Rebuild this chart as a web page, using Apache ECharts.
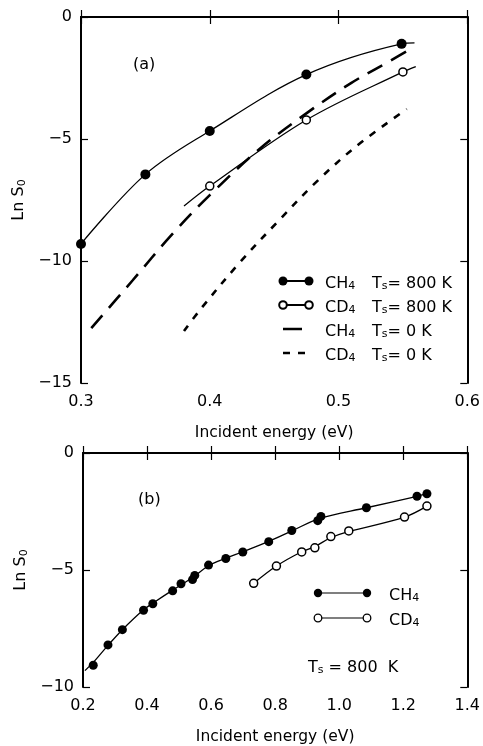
<!DOCTYPE html>
<html><head><meta charset="utf-8">
<script src="https://cdn.jsdelivr.net/npm/echarts@6/dist/echarts.min.js"></script>
<style>html,body{margin:0;padding:0;background:#fff}#c{width:483px;height:746px}</style>
</head><body><div id="c"></div>
<script>
// ---------- Panel (a) ----------
const aXTicks = [0.3, 0.4, 0.5, 0.6];
const aYTicks = [-15, -10, -5, 0];
const aCH4_800_pts = [[0.3,-9.3],[0.35,-6.45],[0.4,-4.67],[0.475,-2.36],[0.549,-1.1]];
const aCH4_800_fit = [[0.3,-9.3],[0.35,-6.45],[0.4,-4.67],[0.475,-2.36],[0.549,-1.1],[0.559,-1.06]];
const aCD4_800_pts = [[0.4,-6.93],[0.475,-4.22],[0.55,-2.25]];
const aCD4_800_fit = [[0.38,-7.75],[0.4,-6.93],[0.475,-4.22],[0.55,-2.25],[0.56,-2.03]];
const aCH4_0_fit = [[0.308,-12.75],[0.34,-10.8],[0.37,-8.95],[0.40,-7.3],[0.44,-5.35],[0.475,-3.95],[0.51,-2.7],[0.54,-1.8],[0.558,-1.25]];
const aCD4_0_fit = [[0.38,-12.87],[0.394,-11.9],[0.423,-10.08],[0.454,-8.32],[0.482,-6.8],[0.513,-5.33],[0.553,-3.77]];

// ---------- Panel (b) ----------
const bXTicks = [0.2, 0.4, 0.6, 0.8, 1.0, 1.2, 1.4];
const bYTicks = [-10, -5, 0];
const bCH4_pts = [[0.232,-9.07],[0.278,-8.2],[0.323,-7.55],[0.389,-6.72],[0.418,-6.44],[0.48,-5.89],[0.506,-5.59],[0.542,-5.41],[0.549,-5.23],[0.592,-4.79],[0.646,-4.51],[0.699,-4.23],[0.78,-3.79],[0.852,-3.31],[0.933,-2.89],[0.943,-2.71],[1.085,-2.34],[1.243,-1.85],[1.274,-1.74]];
const bCH4_fit = [[0.206,-9.3],[0.232,-8.95],[0.278,-8.22],[0.323,-7.55],[0.389,-6.7],[0.418,-6.42],[0.48,-5.86],[0.545,-5.3],[0.592,-4.82],[0.646,-4.5],[0.699,-4.22],[0.78,-3.78],[0.852,-3.33],[0.938,-2.8],[1.085,-2.34],[1.243,-1.85],[1.274,-1.74]];
const bCD4_pts = [[0.733,-5.57],[0.804,-4.83],[0.883,-4.23],[0.924,-4.05],[0.974,-3.57],[1.03,-3.33],[1.204,-2.74],[1.274,-2.27]];
const bCD4_fit = [[0.733,-5.57],[0.804,-4.83],[0.883,-4.22],[0.924,-4.0],[0.974,-3.62],[1.03,-3.36],[1.204,-2.74],[1.274,-2.27]];

const FONT = '"DejaVu Sans", "Liberation Sans", Arial, sans-serif';
const rich = {
  m: {fontSize: 16, fontFamily: FONT, color: '#000', lineHeight: 22, verticalAlign: 'bottom'},
  s: {fontSize: 11, fontFamily: FONT, color: '#000', lineHeight: 12, verticalAlign: 'bottom'}
};
const fmtY = v => (v < 0 ? '\u2212' + Math.abs(v) : String(v));
const fmtX = v => Number(v).toFixed(1);

function xAx(grid, min, max, interval, pos, labels) {
  return {
    type: 'value', gridIndex: grid, min, max, interval, position: pos,
    name: labels ? 'Incident energy (eV)' : '', nameLocation: 'middle', nameGap: 42,
    nameTextStyle: {fontSize: 15.5, fontFamily: FONT, color: '#000'},
    axisLine: {show: true, lineStyle: {color: '#000', width: 2}},
    axisTick: {show: true, inside: true, length: 7, lineStyle: {color: '#000', width: 1.2}},
    axisLabel: {show: labels, formatter: fmtX, fontSize: 16, fontFamily: FONT, color: '#000', margin: 11},
    splitLine: {show: false}
  };
}
function yAx(grid, min, max, interval, pos, labels) {
  return {
    type: 'value', gridIndex: grid, min, max, interval, position: pos,
    name: labels ? '{m|Ln S}{s|0}' : '', nameLocation: 'middle', nameGap: 48,
    nameTextStyle: {rich: rich},
    axisLine: {show: true, onZero: false, lineStyle: {color: '#000', width: 2}},
    axisTick: {show: true, inside: true, length: 7, lineStyle: {color: '#000', width: 1.2}},
    axisLabel: {show: labels, formatter: fmtY, fontSize: 16, fontFamily: FONT, color: '#000', margin: 9},
    splitLine: {show: false}
  };
}

function line(data, xi, yi, width, dash) {
  return {type: 'line', xAxisIndex: xi, yAxisIndex: yi, data, smooth: 0.35, showSymbol: false, symbol: 'none',
    lineStyle: {color: '#000', width, type: dash || 'solid', opacity: 1}, silent: true, z: 2};
}
function pts(data, xi, yi, filled, size) {
  return {type: 'scatter', xAxisIndex: xi, yAxisIndex: yi, data, symbol: 'circle', symbolSize: size,
    itemStyle: {color: filled ? '#000' : '#fff', borderColor: '#000', borderWidth: filled ? 0 : 1.5, opacity: 1}, silent: true, z: 5};
}

// legend graphics
const G = [];
function txt(x, y, t) { G.push({type: 'text', x, y, style: {text: t, rich: rich, verticalAlign: 'middle', fill: '#000'}, z: 10}); }
function circ(x, y, r, filled, lw) { G.push({type: 'circle', shape: {cx: x, cy: y, r}, style: {fill: filled ? '#000' : '#fff', stroke: '#000', lineWidth: filled ? 0 : (lw || 1.5)}, z: 11}); }
function seg(x1, y1, x2, y2, w) { G.push({type: 'line', shape: {x1, y1, x2, y2}, style: {stroke: '#000', lineWidth: w}, z: 10}); }

// top legend
const L = [281, 305, 329, 353];
seg(283, L[0], 309, L[0], 2); circ(283, L[0], 4.5, true); circ(309, L[0], 4.5, true);
seg(283, L[1], 309, L[1], 2); circ(283, L[1], 3.8, false, 2); circ(309, L[1], 3.8, false, 2);
seg(283, L[2], 302, L[2], 2.5);
seg(283, L[3], 290, L[3], 2.5); seg(298, L[3], 305, L[3], 2.5);
txt(325, L[0], '{m|CH}{s|4}'); txt(372, L[0], '{m|T}{s|s}{m|= 800 K}');
txt(325, L[1], '{m|CD}{s|4}'); txt(372, L[1], '{m|T}{s|s}{m|= 800 K}');
txt(325, L[2], '{m|CH}{s|4}'); txt(372, L[2], '{m|T}{s|s}{m|= 0 K}');
txt(325, L[3], '{m|CD}{s|4}'); txt(372, L[3], '{m|T}{s|s}{m|= 0 K}');
txt(133, 62, '{m|(a)}');

// bottom legend
seg(318, 593, 367, 593, 1.2); circ(318, 593, 4.2, true); circ(367, 593, 4.2, true);
seg(318, 618, 367, 618, 1.2); circ(318, 618, 3.8, false, 1.3); circ(367, 618, 3.8, false, 1.3);
txt(389, 593, '{m|CH}{s|4}');
txt(389, 618, '{m|CD}{s|4}');
txt(308, 665, '{m|T}{s|s}{m| = 800  K}');
txt(138, 497, '{m|(b)}');

const chart = echarts.init(document.getElementById('c'), null, {renderer: 'canvas'});
chart.setOption({
  backgroundColor: '#fff',
  animation: false,
  grid: [
    {left: 81, top: 17, width: 388, height: 366},
    {left: 83, top: 453, width: 387, height: 241}
  ],
  xAxis: [
    xAx(0, aXTicks[0], aXTicks[aXTicks.length-1], 0.1, 'bottom', true),
    xAx(0, aXTicks[0], aXTicks[aXTicks.length-1], 0.1, 'top', false),
    xAx(1, bXTicks[0], bXTicks[bXTicks.length-1], 0.2, 'bottom', true),
    xAx(1, bXTicks[0], bXTicks[bXTicks.length-1], 0.2, 'top', false)
  ],
  yAxis: [
    yAx(0, aYTicks[0], aYTicks[aYTicks.length-1], 5, 'left', true),
    yAx(0, aYTicks[0], aYTicks[aYTicks.length-1], 5, 'right', false),
    yAx(1, bYTicks[0], bYTicks[bYTicks.length-1], 5, 'left', true),
    yAx(1, bYTicks[0], bYTicks[bYTicks.length-1], 5, 'right', false)
  ],
  series: [
    line(aCH4_800_fit, 0, 0, 1.3),
    line(aCD4_800_fit, 0, 0, 1.3),
    line(aCH4_0_fit, 0, 0, 2.6, [17, 10]),
    line(aCD4_0_fit, 0, 0, 2.6, [7, 8]),
    pts(aCH4_800_pts, 0, 0, true, 10),
    pts(aCD4_800_pts, 0, 0, false, 8),
    line(bCH4_fit, 2, 2, 1.3),
    line(bCD4_fit, 2, 2, 1.3),
    pts(bCH4_pts, 2, 2, true, 9),
    pts(bCD4_pts, 2, 2, false, 8)
  ],
  graphic: G
});
</script></body></html>
